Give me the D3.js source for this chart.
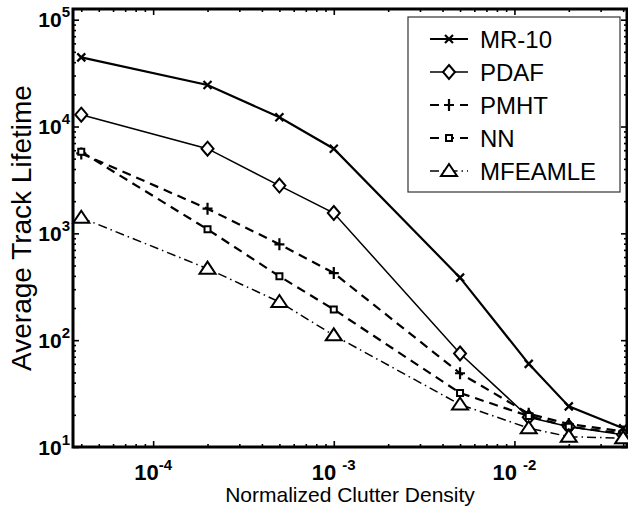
<!DOCTYPE html>
<html>
<head>
<meta charset="utf-8">
<script src="https://cdn.jsdelivr.net/npm/d3@7"></script>
<style>
  body { margin: 0; background: #fff; }
  svg { display: block; font-family: "Liberation Sans", Arial, sans-serif; }
</style>
</head>
<body>
<div id="main"></div>
<script>
const ctx = {
    WIDTH: 628,
    HEIGHT: 508,
    left: 73, right: 627, top: 9, bottom: 447,
};

// data
const clutter = [4e-5, 2e-4, 5e-4, 1e-3, 5e-3, 1.2e-2, 2e-2, 4e-2];
const mr10    = [44400, 24500, 12200, 6200, 385, 60, 24, 15];
const pdaf    = [12900, 6200, 2800, 1550, 75, 19, 15.5, 13];
const pmht    = [5600, 1700, 790, 425, 49, 20.5, 16.4, 14];
const nn      = [5800, 1090, 396, 194, 32, 19.5, 15.5, 13.4];
const mfeamle = [1400, 467, 228, 111, 25, 15, 12.5, 12.1];

const seriesNames = ["MR-10", "PDAF", "PMHT", "NN", "MFEAMLE"];
const xTickVals = [1e-4, 1e-3, 1e-2];
const xTickExp  = ["-4", "-3", "-2"];
const yTickVals = [10, 100, 1000, 10000, 100000];
const yTickExp  = ["1", "2", "3", "4", "5"];

const styles = {
    "MR-10":   {w: 2.2, dash: null,        marker: "x"},
    "PDAF":    {w: 1.5, dash: null,        marker: "diamond"},
    "PMHT":    {w: 2.2, dash: "9,6",       marker: "plus"},
    "NN":      {w: 2.2, dash: "9,6",       marker: "square"},
    "MFEAMLE": {w: 1.5, dash: "9,4,1.5,4", marker: "triangle"},
};

function markerPath(type){
    switch(type){
        case "x":        return "M-4,-4L4,4M-4,4L4,-4";
        case "plus":     return "M-5,0L5,0M0,-6L0,6";
        case "diamond":  return "M0,-7L6,0L0,7L-6,0Z";
        case "square":   return "M-3,-3L3,-3L3,3L-3,3Z";
        case "triangle": return "M0,-7L8,5L-8,5Z";
    }
}

function drawMarker(g, type, x, y){
    g.append("path")
        .attr("d", markerPath(type))
        .attr("transform", `translate(${x},${y})`)
        .attr("stroke", "#000")
        .attr("stroke-width", type == "plus" || type == "x" ? 2.2 : 2)
        .attr("fill", type == "square" || type == "triangle" || type == "diamond" ? "#fff" : "none");
}

function createViz(){
    let svgEl = d3.select("#main").append("svg")
        .attr("width", ctx.WIDTH)
        .attr("height", ctx.HEIGHT);

    let x = d3.scaleLog().domain([3.6e-5, 4.2e-2]).range([ctx.left, ctx.right]);
    let y = d3.scaleLog().domain([10, Math.pow(10, 5.1)]).range([ctx.bottom, ctx.top]);

    let xMinor = x.ticks().filter(d => !xTickVals.includes(d));
    let yMinor = y.ticks().filter(d => !yTickVals.includes(d));

    // axes: minor + major ticks on all four sides, pointing inward
    let axG = svgEl.append("g").attr("id", "axes");
    const addAxis = (axisFn, scale, vals, size, tr) => {
        let g = axG.append("g").attr("transform", tr)
            .call(axisFn(scale).tickValues(vals).tickSize(size).tickSizeOuter(0).tickFormat(""));
        g.selectAll(".tick line").attr("stroke", "#000").attr("stroke-width", 1.6);
        g.select(".domain").remove();
    };
    addAxis(d3.axisBottom, x, xMinor, -3, `translate(0,${ctx.bottom})`);
    addAxis(d3.axisBottom, x, xTickVals, -6, `translate(0,${ctx.bottom})`);
    addAxis(d3.axisTop, x, xMinor, -3, `translate(0,${ctx.top})`);
    addAxis(d3.axisTop, x, xTickVals, -6, `translate(0,${ctx.top})`);
    addAxis(d3.axisLeft, y, yMinor, -3, `translate(${ctx.left},0)`);
    addAxis(d3.axisLeft, y, yTickVals, -6, `translate(${ctx.left},0)`);
    addAxis(d3.axisRight, y, yMinor, -3, `translate(${ctx.right},0)`);
    addAxis(d3.axisRight, y, yTickVals, -6, `translate(${ctx.right},0)`);

    axG.append("rect")
        .attr("x", ctx.left).attr("y", ctx.top)
        .attr("width", ctx.right - ctx.left).attr("height", ctx.bottom - ctx.top)
        .attr("fill", "none").attr("stroke", "#000").attr("stroke-width", 3);

    // tick labels
    let xl = svgEl.append("g").attr("font-weight", "bold");
    xTickVals.forEach((v, i) => {
        let t = xl.append("text").attr("x", x(v)).attr("y", 480)
            .attr("text-anchor", "middle").attr("font-size", 22);
        t.append("tspan").text("10");
        t.append("tspan").attr("dy", -10).attr("dx", i == 0 ? 0 : 6)
            .attr("font-size", 15).text(xTickExp[i]);
    });
    yTickVals.forEach((v, i) => {
        let t = xl.append("text").attr("x", 70).attr("y", y(v) + 7.5)
            .attr("text-anchor", "end").attr("font-size", 21);
        t.append("tspan").text("10");
        t.append("tspan").attr("dy", -10).attr("font-size", 15).text(yTickExp[i]);
    });

    svgEl.append("text")
        .attr("x", (ctx.left + ctx.right) / 2).attr("y", 502)
        .attr("text-anchor", "middle").attr("font-size", 21)
        .text("Normalized Clutter Density");
    svgEl.append("text")
        .attr("transform", `translate(31,${(ctx.top + ctx.bottom) / 2}) rotate(-90)`)
        .attr("text-anchor", "middle").attr("font-size", 28)
        .text("Average Track Lifetime");

    // lines
    let all = [mr10, pdaf, pmht, nn, mfeamle];
    let line = d3.line().x(d => x(d[0])).y(d => y(d[1]));
    let plotG = svgEl.append("g").attr("id", "plotG");
    all.forEach((vals, i) => {
        let st = styles[seriesNames[i]];
        let pts = clutter.map((c, j) => [c, vals[j]]);
        plotG.append("path").datum(pts)
            .attr("d", line)
            .attr("fill", "none")
            .attr("stroke", "#000")
            .attr("stroke-width", st.w)
            .attr("stroke-dasharray", st.dash);
        pts.forEach(p => drawMarker(plotG, st.marker, x(p[0]), y(p[1])));
    });

    // legend
    let lg = svgEl.append("g").attr("id", "legend");
    lg.append("rect").attr("x", 408).attr("y", 17).attr("width", 212).attr("height", 175)
        .attr("fill", "#fff").attr("stroke", "#333").attr("stroke-width", 1.2);
    seriesNames.forEach((name, i) => {
        let st = styles[name];
        let ly = 39 + i * 33;
        lg.append("line").attr("x1", 430).attr("x2", 468).attr("y1", ly).attr("y2", ly)
            .attr("stroke", "#000").attr("stroke-width", st.w)
            .attr("stroke-dasharray", st.dash);
        drawMarker(lg, st.marker, 449, ly);
        lg.append("text").attr("x", 480).attr("y", ly + 8.5)
            .attr("font-size", 24).text(name);
    });
}

createViz();
</script>
</body>
</html>
